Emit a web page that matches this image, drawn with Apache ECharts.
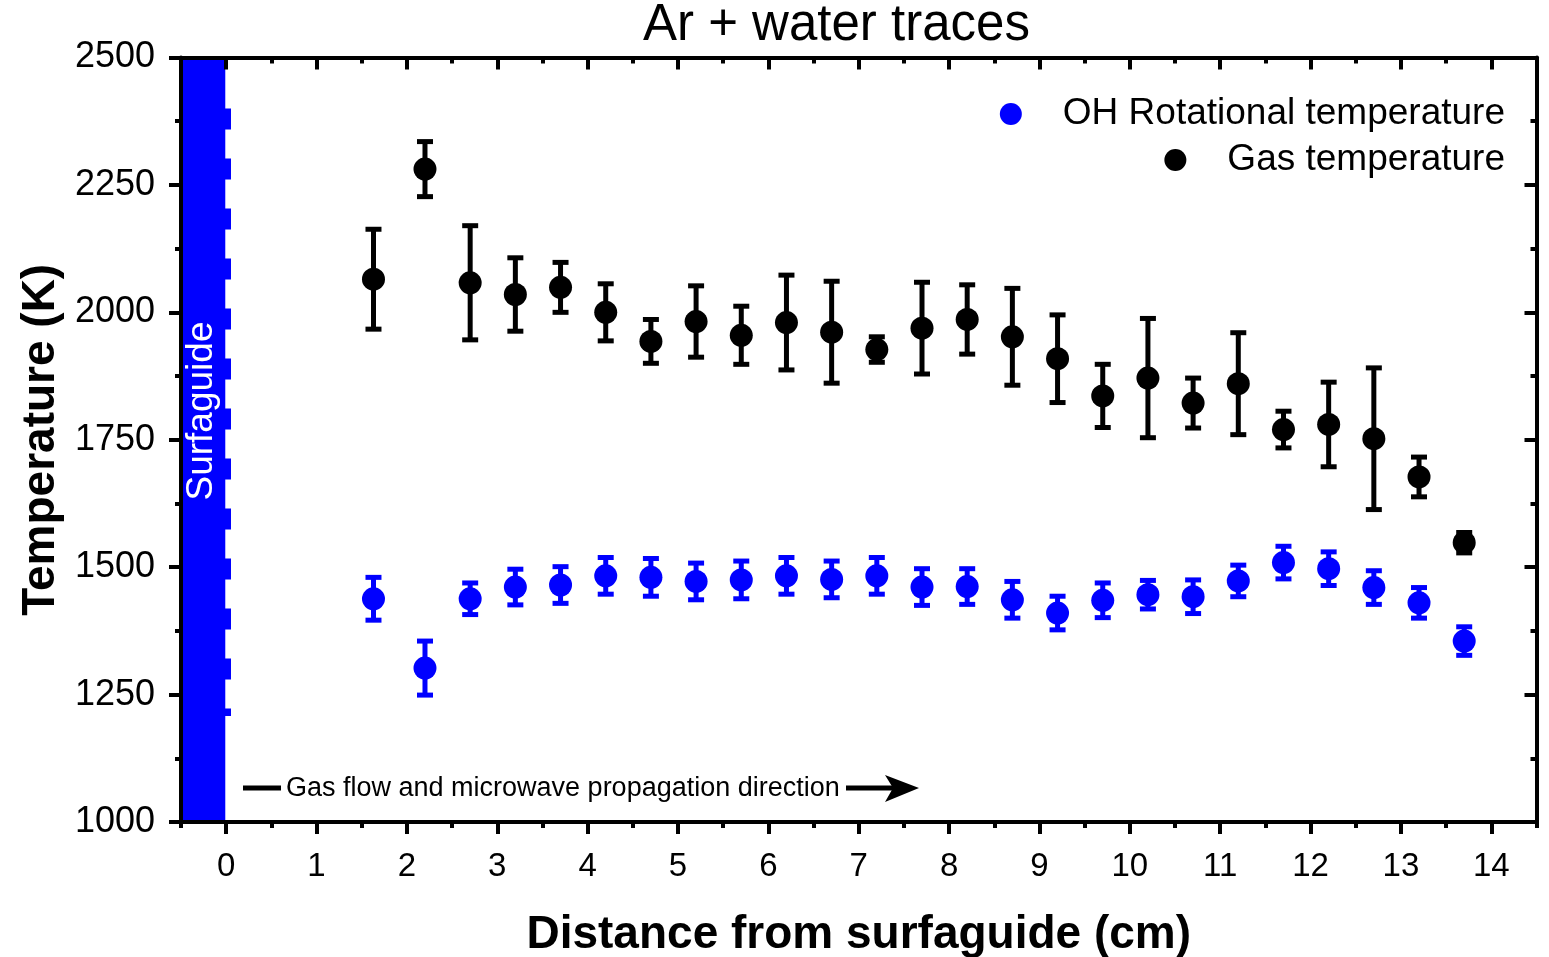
<!DOCTYPE html>
<html>
<head>
<meta charset="utf-8">
<title>Ar + water traces</title>
<script src="https://cdn.jsdelivr.net/npm/echarts@6/dist/echarts.min.js"></script>
<style>
  html, body { margin: 0; padding: 0; background: #fff; }
  #main { width: 1549px; height: 957px; }
</style>
</head>
<body>
<div id="main"></div>
<script>
// distance from surfaguide (cm), same positions for both series
var distance = [1.63, 2.2, 2.7, 3.2, 3.7, 4.2, 4.7, 5.2, 5.7, 6.2, 6.7, 7.2, 7.7,
                8.2, 8.7, 9.2, 9.7, 10.2, 10.7, 11.2, 11.7, 12.2, 12.7, 13.2, 13.7]

var gasTemp = [2065, 2281, 2058, 2035, 2049, 2000, 1943, 1982, 1955, 1980, 1961, 1927, 1969,
               1986, 1952, 1909, 1836, 1871, 1822, 1860, 1770, 1780, 1752, 1677, 1548]
var gasErr = [98, 54, 112, 72, 49, 56, 43, 70, 57, 93, 100, 25, 90,
              68, 95, 86, 62, 117, 49, 100, 36, 83, 139, 39, 20]

var ohTemp = [1438, 1302, 1438, 1461, 1465, 1483, 1480, 1472, 1475, 1483, 1476, 1483, 1461,
              1462, 1436, 1410, 1435, 1446, 1442, 1473, 1509, 1497, 1460, 1430, 1355]
var ohErr = [42, 53, 31, 35, 36, 36, 37, 36, 37, 36, 36, 36, 36,
             35, 36, 33, 34, 28, 33, 31, 32, 33, 33, 30, 28]

var xTicks = [0, 1, 2, 3, 4, 5, 6, 7, 8, 9, 10, 11, 12, 13, 14]
var xMinorTicks = [-0.5, 0.5, 1.5, 2.5, 3.5, 4.5, 5.5, 6.5, 7.5, 8.5, 9.5, 10.5, 11.5, 12.5, 13.5, 14.5]

var FONT = 'Liberation Sans, Arial, sans-serif'

function points(vals) {
    return distance.map(function (d, i) { return [d, vals[i]] })
}

function bars(vals, errs) {
    return distance.map(function (d, i) { return [d, vals[i] - errs[i], vals[i] + errs[i]] })
}

// vertical error bar with caps
function errorBar(color) {
    return function (params, api) {
        var x = api.value(0)
        var lo = api.coord([x, api.value(1)])
        var hi = api.coord([x, api.value(2)])
        var w = 8
        var st = { stroke: color, lineWidth: 5 }
        return {
            type: 'group',
            children: [
                { type: 'line', shape: { x1: hi[0], y1: hi[1], x2: lo[0], y2: lo[1] }, style: st },
                { type: 'line', shape: { x1: hi[0] - w, y1: hi[1], x2: hi[0] + w, y2: hi[1] }, style: st },
                { type: 'line', shape: { x1: lo[0] - w, y1: lo[1], x2: lo[0] + w, y2: lo[1] }, style: st }
            ]
        }
    }
}

function xAxisBase(pos, tickVals, len, showLine, inside) {
    return {
        type: 'value', position: pos, min: -0.5, max: 14.5, interval: 0.5, z: 10,
        axisLine: { show: showLine, onZero: false, lineStyle: { color: '#000', width: 4 } },
        axisTick: { show: true, inside: inside, customValues: tickVals, length: len, lineStyle: { color: '#000', width: 4 } },
        axisLabel: { show: false },
        splitLine: { show: false }
    }
}

var myChart = echarts.init(document.getElementById('main'))

var bottomAxis = xAxisBase('bottom', xTicks, 12, true, false)
bottomAxis.axisLabel = { show: true, customValues: xTicks, fontSize: 33, margin: 28, color: '#000', fontFamily: FONT }
bottomAxis.name = 'Distance from surfaguide (cm)'
bottomAxis.nameLocation = 'middle'
bottomAxis.nameGap = 90
bottomAxis.nameTextStyle = { fontSize: 46, fontWeight: 'bold', color: '#000', fontFamily: FONT }

function yAxisBase(pos, inside) {
    return {
        type: 'value', position: pos, min: 1000, max: 2500, interval: 250, z: 10,
        axisLine: { show: true, onZero: false, lineStyle: { color: '#000', width: 4 } },
        axisTick: { show: true, inside: inside, length: 12, lineStyle: { color: '#000', width: 4 } },
        minorTick: { show: true, splitNumber: 2, length: 6, lineStyle: { color: '#000', width: 4 } },
        axisLabel: { show: false },
        splitLine: { show: false },
        minorSplitLine: { show: false }
    }
}

var leftAxis = yAxisBase('left', false)
leftAxis.axisLabel = {
    show: true, fontSize: 36, margin: 26, color: '#000', fontFamily: FONT,
    formatter: function (v) { return String(v) }
}
leftAxis.name = 'Temperature (K)'
leftAxis.nameLocation = 'middle'
leftAxis.nameGap = 108
leftAxis.nameTextStyle = { fontSize: 46, fontWeight: 'bold', color: '#000', fontFamily: FONT }

var legendCommon = {
    right: 39, icon: 'circle', itemWidth: 94, itemHeight: 22, selectedMode: false,
    textStyle: { fontSize: 37, lineHeight: 40, color: '#000', fontFamily: FONT }
}

option = {
    animation: false,
    backgroundColor: '#fff',
    textStyle: { fontFamily: FONT },
    title: {
        text: 'Ar + water traces',
        left: 638,
        top: -5,
        textStyle: { fontSize: 51, fontWeight: 'normal', color: '#000', fontFamily: FONT }
    },
    legend: [
        Object.assign({ data: ['OH Rotational temperature'], top: 89 }, legendCommon),
        Object.assign({ data: ['Gas temperature'], top: 135 }, legendCommon)
    ],
    grid: { left: 181, right: 12.5, top: 57.5, bottom: 135, outerBoundsMode: 'none', containLabel: false },
    xAxis: [
        bottomAxis,
        xAxisBase('top', xTicks, 12, true, true),
        xAxisBase('bottom', xMinorTicks, 6, false, false),
        xAxisBase('top', xMinorTicks, 6, false, true)
    ],
    yAxis: [
        leftAxis,
        yAxisBase('right', true)
    ],
    graphic: [
        {
            type: 'text', x: 202, y: 411, rotation: Math.PI / 2, z: 100,
            style: { text: 'Surfaguide', fill: '#fff', font: '37px ' + FONT, align: 'center', verticalAlign: 'middle' }
        },
        {
            type: 'group', z: 100,
            children: [
                { type: 'line', shape: { x1: 243, y1: 788, x2: 281, y2: 788 }, style: { stroke: '#000', lineWidth: 5 } },
                {
                    type: 'text', x: 286, y: 789,
                    style: { text: 'Gas flow and microwave propagation direction', fill: '#000', font: '27px ' + FONT, verticalAlign: 'middle' }
                },
                { type: 'line', shape: { x1: 846, y1: 788, x2: 896, y2: 788 }, style: { stroke: '#000', lineWidth: 5 } },
                { type: 'polygon', shape: { points: [[885, 775], [919, 788], [885, 802], [893, 788]] }, style: { fill: '#000' } }
            ]
        }
    ],
    series: [
        {
            name: 'Gas temperature err',
            type: 'custom',
            renderItem: errorBar('#000000'),
            encode: { x: 0, y: [1, 2] },
            data: bars(gasTemp, gasErr),
            z: 3,
            // 波导区域
            markArea: {
                silent: true,
                itemStyle: { color: '#0000ff', opacity: 1 },
                data: [[{ xAxis: -0.5, yAxis: 1000 }, { xAxis: -0.01, yAxis: 2500 }]]
            }
        },
        {
            name: 'OH Rotational temperature err',
            type: 'custom',
            renderItem: errorBar('#0000ff'),
            encode: { x: 0, y: [1, 2] },
            data: bars(ohTemp, ohErr),
            z: 3,
            markLine: {
                silent: true,
                symbol: ['none', 'none'],
                label: { show: false },
                lineStyle: { color: '#0000ff', width: 6, type: [21, 29], opacity: 1 },
                data: [[{ coord: [0.02, 2400] }, { coord: [0.02, 1208] }]]
            }
        },
        {
            name: 'OH Rotational temperature',
            type: 'scatter',
            symbol: 'circle',
            symbolSize: 23,
            itemStyle: { color: '#0000ff', opacity: 1 },
            data: points(ohTemp),
            z: 4
        },
        {
            name: 'Gas temperature',
            type: 'scatter',
            symbol: 'circle',
            symbolSize: 23,
            itemStyle: { color: '#000000', opacity: 1 },
            data: points(gasTemp),
            z: 4
        }
    ]
}

myChart.setOption(option)
</script>
</body>
</html>
